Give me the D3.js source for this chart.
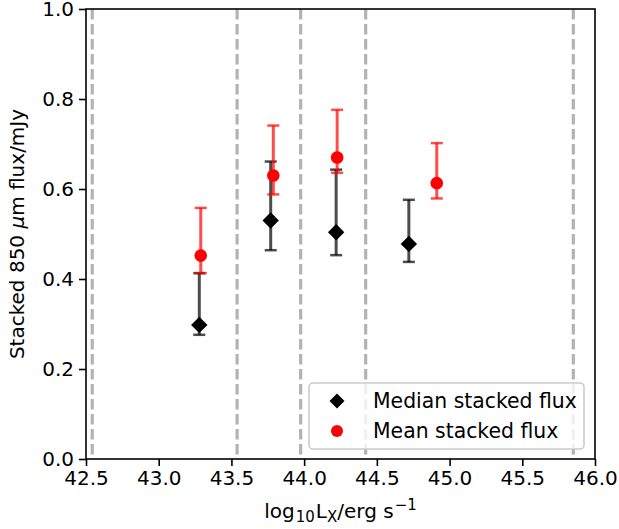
<!DOCTYPE html>
<html><head><meta charset="utf-8">
<script src="https://cdn.jsdelivr.net/npm/d3@7"></script>
<style>body{margin:0;background:#fff}svg{display:block;font-family:"DejaVu Sans",sans-serif}</style>
</head><body><svg id="c" width="619" height="529"></svg>
<script>
const binEdges = [42.543, 43.539, 43.976, 44.423, 45.851];
const medianX = [43.279, 43.770, 44.220, 44.720];
const medianY = [0.298, 0.530, 0.504, 0.478];
const medianLo = [0.276, 0.464, 0.453, 0.438];
const medianHi = [0.413, 0.661, 0.643, 0.576];
const meanX = [43.289, 43.788, 44.227, 44.912];
const meanY = [0.452, 0.630, 0.670, 0.613];
const meanLo = [0.413, 0.588, 0.636, 0.579];
const meanHi = [0.558, 0.741, 0.776, 0.702];
const xTicks = [42.5, 43.0, 43.5, 44.0, 44.5, 45.0, 45.5, 46.0];
const yTicks = [0.0, 0.2, 0.4, 0.6, 0.8, 1.0];
const legendLabels = ["Median stacked flux", "Mean stacked flux"];

const svg = d3.select("#c");
const L = 86, R = 595, T = 9, B = 459;
const x = d3.scaleLinear().domain([42.5, 46.0]).range([L, R]);
const y = d3.scaleLinear().domain([0, 1]).range([B, T]);
const FS = 20;

// dashed bin edges
svg.append("g").selectAll("line").data(binEdges).join("line")
  .attr("x1", d => x(d)).attr("x2", d => x(d)).attr("y1", T).attr("y2", B)
  .attr("stroke", "#b3b3b3").attr("stroke-width", 3.2).attr("stroke-dasharray", "10.5,4.5");

function errbars(xs, lo, hi, color) {
  const g = svg.append("g").attr("stroke", color).attr("stroke-width", 3);
  xs.forEach((xv, i) => {
    const px = x(xv);
    g.append("line").attr("x1", px).attr("x2", px).attr("y1", y(lo[i])).attr("y2", y(hi[i]));
    [lo[i], hi[i]].forEach(v => g.append("line").attr("x1", px - 6).attr("x2", px + 6).attr("y1", y(v)).attr("y2", y(v)).attr("stroke-width", 2.5));
  });
}
errbars(medianX, medianLo, medianHi, "rgba(0,0,0,0.7)");
errbars(meanX, meanLo, meanHi, "rgba(255,0,0,0.7)");

const diamond = s => `M0,${-s}L${s},0L0,${s}L${-s},0Z`;
svg.append("g").selectAll("path").data(medianX).join("path")
  .attr("d", diamond(8.2)).attr("transform", (d, i) => `translate(${x(d)},${y(medianY[i])})`).attr("fill", "#000");
svg.append("g").selectAll("circle").data(meanX).join("circle")
  .attr("cx", d => x(d)).attr("cy", (d, i) => y(meanY[i])).attr("r", 6.3).attr("fill", "red");

// axes
const xa = svg.append("g").attr("transform", `translate(0,${B})`)
  .call(d3.axisBottom(x).tickValues(xTicks).tickFormat(d3.format(".1f")).tickSize(7).tickPadding(5));
const ya = svg.append("g").attr("transform", `translate(${L},0)`)
  .call(d3.axisLeft(y).tickValues(yTicks).tickFormat(d3.format(".1f")).tickSize(7).tickPadding(5));
[xa, ya].forEach(a => {
  a.select(".domain").remove();
  a.selectAll("line").attr("stroke", "#000").attr("stroke-width", 1.6);
  a.selectAll("text").attr("font-size", FS).attr("fill", "#000").attr("font-family", "DejaVu Sans");
});
svg.append("rect").attr("x", L).attr("y", T).attr("width", R - L).attr("height", B - T)
  .attr("fill", "none").attr("stroke", "#000").attr("stroke-width", 1.6);

// legend
const lg = svg.append("g");
lg.append("rect").attr("x", 309).attr("y", 383).attr("width", 275).attr("height", 66).attr("rx", 4)
  .attr("fill", "rgba(255,255,255,0.8)").attr("stroke", "#cccccc").attr("stroke-width", 1.6);
lg.append("path").attr("d", diamond(7.5)).attr("transform", "translate(337,401)").attr("fill", "#000");
lg.append("circle").attr("cx", 337).attr("cy", 431).attr("r", 6).attr("fill", "red");
legendLabels.forEach((t, i) => lg.append("text").attr("x", 373).attr("y", 401 + i * 30 + 7)
  .attr("font-size", 20.4).text(t));

// axis labels
const xl = svg.append("text").attr("x", (L + R) / 2).attr("y", 518).attr("text-anchor", "middle").attr("font-size", FS);
xl.append("tspan").text("log");
xl.append("tspan").attr("font-size", 15).attr("dy", 4).attr("dx", 1).text("10");
xl.append("tspan").attr("dy", -4).attr("dx", 1).text("L");
xl.append("tspan").attr("font-size", 15).attr("dy", 4).text("X");
xl.append("tspan").attr("dy", -4).text("/erg s");
xl.append("tspan").attr("font-size", 15).attr("dy", -8).attr("dx", 1).text("\u22121");

const yl = svg.append("text").attr("transform", `translate(24,${(T + B) / 2}) rotate(-90)`)
  .attr("text-anchor", "middle").attr("font-size", FS);
yl.append("tspan").text("Stacked 850 ");
yl.append("tspan").attr("font-style", "italic").text("\u03bc");
yl.append("tspan").text("m flux/mJy");
</script></body></html>
